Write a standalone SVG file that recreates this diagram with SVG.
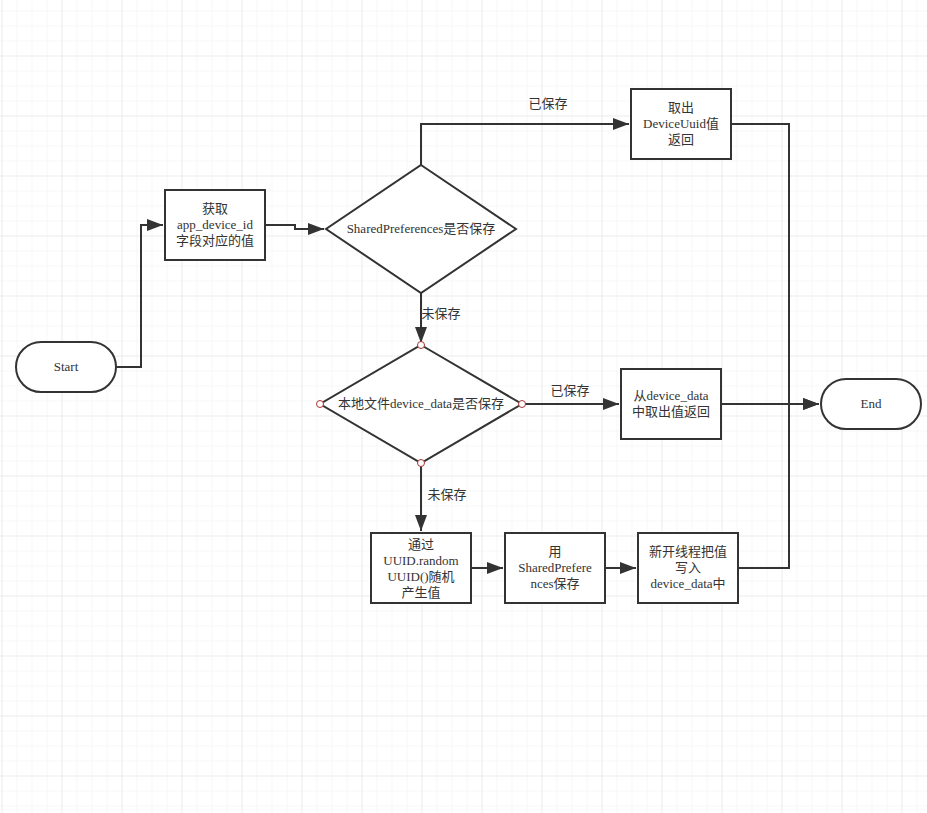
<svg xmlns="http://www.w3.org/2000/svg" width="927" height="813" viewBox="0 0 927 813">
<defs>
<pattern id="minor" x="1.5" y="10.5" width="15" height="15" patternUnits="userSpaceOnUse">
<path d="M0 0H15M0 0V15" fill="none" stroke="#f0f0f0" stroke-width="1"/>
</pattern>
<pattern id="major" x="1.5" y="55.5" width="60" height="60" patternUnits="userSpaceOnUse">
<path d="M0 0H60M0 0V60" fill="none" stroke="#e3e3e3" stroke-width="1"/>
</pattern>
<marker id="arr" viewBox="0 0 16 12" refX="16" refY="6" markerWidth="16" markerHeight="12" markerUnits="userSpaceOnUse" orient="auto">
<path d="M0 0L16 6L0 12Z" fill="#333"/>
</marker>
<style>
.shape{fill:#fff;stroke:#333;stroke-width:2}
.t{font-family:"Liberation Serif","Noto Sans CJK SC",serif;font-size:13px;fill:#333;text-anchor:middle}
.c{fill:none;stroke:#333;stroke-width:2}
.pt{fill:#fff;stroke:#a33;stroke-width:1}
</style>
</defs>
<rect width="927" height="813" fill="#fff"/>
<rect width="927" height="813" fill="url(#minor)"/>
<rect width="927" height="813" fill="url(#major)"/>

<g id="connectors">
<path class="c" d="M116 367H141V225H163" marker-end="url(#arr)"/>
<path class="c" d="M265 225H295V229H324" marker-end="url(#arr)"/>
<path class="c" d="M421 165V124H629" marker-end="url(#arr)"/>
<path class="c" d="M731 124H789V404H819" marker-end="url(#arr)"/>
<path class="c" d="M421 293V343" marker-end="url(#arr)"/>
<path class="c" d="M522 404H619" marker-end="url(#arr)"/>
<path class="c" d="M721 404H819" marker-end="url(#arr)"/>
<path class="c" d="M421 463V531" marker-end="url(#arr)"/>
<path class="c" d="M471 568H503" marker-end="url(#arr)"/>
<path class="c" d="M605 568H636" marker-end="url(#arr)"/>
<path class="c" d="M738 568H789V404"/>
<text class="t" x="548" y="108">已保存</text>
<text class="t" x="441" y="318">未保存</text>
<text class="t" x="570" y="395">已保存</text>
<text class="t" x="447" y="499">未保存</text>
</g>

<g id="start">
<rect class="shape" x="16" y="342" width="100" height="50" rx="25"/>
<text class="t" x="66" y="371">Start</text>
</g>
<g id="get">
<rect class="shape" x="165" y="190" width="100" height="70"/>
<text class="t" x="215" y="213">获取</text>
<text class="t" x="215" y="229">app_device_id</text>
<text class="t" x="215" y="245">字段对应的值</text>
</g>
<g id="sp-check">
<path class="shape" d="M421 165L516 229L421 293L326 229Z"/>
<text class="t" x="421" y="233">SharedPreferences是否保存</text>
</g>
<g id="take-uuid">
<rect class="shape" x="631" y="89" width="100" height="70"/>
<text class="t" x="681" y="112">取出</text>
<text class="t" x="681" y="128">DeviceUuid值</text>
<text class="t" x="681" y="144">返回</text>
</g>
<g id="file-check">
<path class="shape" d="M421 345L522 404L421 463L320 404Z"/>
<text class="t" x="421" y="408">本地文件device_data是否保存</text>
<circle class="pt" cx="421" cy="345" r="3.5"/>
<circle class="pt" cx="320" cy="404" r="3.5"/>
<circle class="pt" cx="522" cy="404" r="3.5"/>
<circle class="pt" cx="421" cy="463" r="3.5"/>
</g>
<g id="from-file">
<rect class="shape" x="621" y="369" width="100" height="70"/>
<text class="t" x="671" y="400">从device_data</text>
<text class="t" x="671" y="416">中取出值返回</text>
</g>
<g id="end">
<rect class="shape" x="821" y="379" width="100" height="50" rx="25"/>
<text class="t" x="871" y="408">End</text>
</g>
<g id="gen-uuid">
<rect class="shape" x="371" y="533" width="100" height="70"/>
<text class="t" x="421" y="549">通过</text>
<text class="t" x="421" y="565">UUID.random</text>
<text class="t" x="421" y="581">UUID()随机</text>
<text class="t" x="421" y="597">产生值</text>
</g>
<g id="sp-save">
<rect class="shape" x="505" y="533" width="100" height="70"/>
<text class="t" x="555" y="556">用</text>
<text class="t" x="555" y="572">SharedPrefere</text>
<text class="t" x="555" y="588">nces保存</text>
</g>
<g id="file-write">
<rect class="shape" x="638" y="533" width="100" height="70"/>
<text class="t" x="688" y="556">新开线程把值</text>
<text class="t" x="688" y="572">写入</text>
<text class="t" x="688" y="588">device_data中</text>
</g>
</svg>
